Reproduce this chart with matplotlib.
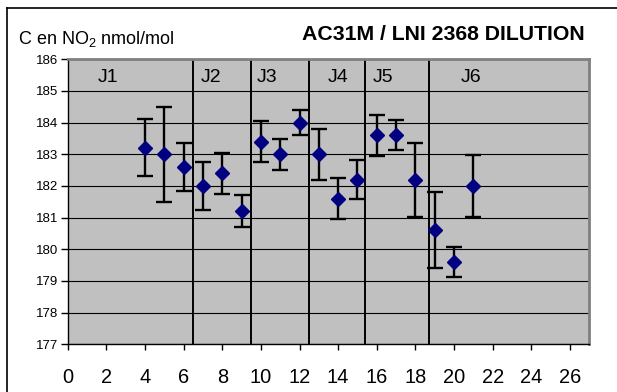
import matplotlib
matplotlib.use('agg')
from matplotlib import pyplot as plt
from matplotlib.lines import Line2D

plt.rcParams['font.family'] = ['Liberation Sans', 'DejaVu Sans']
plt.rcParams['mathtext.fontset'] = 'custom'
plt.rcParams['mathtext.rm'] = 'Liberation Sans'
plt.rcParams['mathtext.default'] = 'regular'

# mesures par point
x = [4, 5, 6, 7, 8, 9, 10, 11, 12, 13, 14, 15, 16, 17, 18, 19, 20, 21]
c_no2 = [183.2, 183.0, 182.6, 182.0, 182.4, 181.2, 183.4, 183.0, 184.0,
         183.0, 181.6, 182.2, 183.6, 183.6, 182.2, 180.6, 179.6, 182.0]
incert = [0.9, 1.5, 0.75, 0.75, 0.65, 0.5, 0.65, 0.48, 0.4,
          0.8, 0.65, 0.62, 0.65, 0.47, 1.17, 1.2, 0.48, 0.98]

# separations entre jours
jour_sep = [6.5, 9.5, 12.5, 15.4, 18.7]
jour_noms = ['J1', 'J2', 'J3', 'J4', 'J5', 'J6']
jour_pos = [2.1, 7.4, 10.3, 14.0, 16.3, 20.9]

fig = plt.figure(figsize=(6.17, 3.92), dpi=100)
ax = fig.add_axes([0.1097, 0.1217, 0.8454, 0.727])
ax.set_facecolor('#c0c0c0')

ax.set_xlim(0, 27)
ax.set_ylim(177, 186)
ax.set_xticks(range(0, 27, 2))
ax.set_yticks(range(177, 187))

ax.grid(axis='y', color='black', linewidth=0.8)
ax.set_axisbelow(True)

for xs in jour_sep:
    ax.axvline(xs, color='black', linewidth=1.4, zorder=1)
for nom, xp in zip(jour_noms, jour_pos):
    ax.text(xp, 185.44, nom, fontsize=14, ha='center', va='center')

ax.errorbar(x, c_no2, yerr=incert, fmt='D', color='#000080', markersize=7.5,
            ecolor='black', elinewidth=1.7, capsize=5.5, capthick=1.7, zorder=3)

for s in ['top', 'right']:
    ax.spines[s].set_color('#808080')
    ax.spines[s].set_linewidth(2)
for s in ['left', 'bottom']:
    ax.spines[s].set_color('black')
    ax.spines[s].set_linewidth(1)

ax.tick_params(axis='y', labelsize=9.5, length=5, width=1, direction='out', pad=2)
ax.tick_params(axis='x', labelsize=14.4, length=4.5, width=1, direction='out', pad=12.5)

fig.text(18 / 617, 1 - 39 / 392, 'C en NO$_2$ nmol/mol', fontsize=13, ha='left', va='center')
fig.text(585 / 617, 1 - 35 / 392, 'AC31M / LNI 2368 DILUTION', fontsize=15.3,
         fontweight='bold', ha='right', va='center')

# cadre de la figure
fig.add_artist(Line2D([7 / 617, 7 / 617], [0, 1 - 8 / 392], color='black', linewidth=1.2))
fig.add_artist(Line2D([7 / 617, 1], [1 - 8 / 392, 1 - 8 / 392], color='black', linewidth=1.2))

plt.savefig('out.png', dpi=100)
